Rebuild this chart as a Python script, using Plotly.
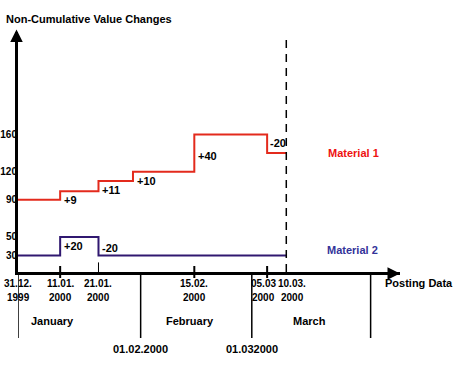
import plotly.graph_objects as go

# ---- data ----
m1_dates = ["1999-12-31", "2000-01-11", "2000-01-21", "2000-01-30", "2000-02-15", "2000-03-05", "2000-03-10"]
m1_values = [90, 99, 110, 120, 160, 140, 140]
m2_dates = ["1999-12-31", "2000-01-11", "2000-01-21", "2000-03-10"]
m2_values = [30, 50, 30, 30]

tick_dates = ["1999-12-31", "2000-01-11", "2000-01-21", "2000-02-15", "2000-03-05", "2000-03-10"]
tick_day = ["31.12.", "11.01.", "21.01.", "15.02.", "05.03", "10.03."]
tick_year = ["1999", "2000", "2000", "2000", "2000", "2000"]
y_ticks = [30, 50, 90, 120, 160]
month_bounds = ["1999-12-31", "2000-02-01", "2000-03-01", "2000-04-01"]
bound_labels = ["", "01.02.2000", "01.032000", ""]
month_names = ["January", "February", "March"]
month_label_dates = ["2000-01-09", "2000-02-14", "2000-03-16"]
cross_ticks = ["2000-01-11", "2000-02-15", "2000-03-05"]
period_end = "2000-03-10"

RED = "#e32a1c"
NAVY = "#301870"
NAVY_TXT = "#333399"
FONT = "Liberation Sans, Arial, sans-serif"

fig = go.Figure()
fig.add_trace(go.Scatter(x=m1_dates, y=m1_values, mode="lines", line=dict(color=RED, width=2, shape="hv"),
                         hoverinfo="skip"))
fig.add_trace(go.Scatter(x=m2_dates, y=m2_values, mode="lines", line=dict(color=NAVY, width=2, shape="hv"),
                         hoverinfo="skip"))

ann = []
shapes = []
f = dict(family=FONT, size=11, color="black", weight="bold")
fn = dict(family=FONT, size=10, color="black", weight="bold")
fy = dict(family=FONT, size=10, color="black", weight="bold")

# change labels computed from the series
def change_labels(dates, values):
    out = []
    for i in range(1, len(values)):
        d = values[i] - values[i - 1]
        if d == 0:
            continue
        out.append((dates[i], values[i - 1], values[i], ("+%d" % d) if d > 0 else ("%d" % d)))
    return out

for (d, v0, v1, t) in change_labels(m1_dates, m1_values):
    if v1 - v0 >= 30:
        ann.append(dict(x=d, y=(v0 + v1) / 2, text=t, xref="x", yref="y", showarrow=False,
                        xanchor="left", yanchor="middle", xshift=2, yshift=-3, font=f))
    elif v1 < v0:
        ann.append(dict(x=d, y=v1, text=t, xref="x", yref="y", showarrow=False,
                        xanchor="left", yanchor="bottom", xshift=1, yshift=2, font=f))
    else:
        ann.append(dict(x=d, y=v1, text=t, xref="x", yref="y", showarrow=False,
                        xanchor="left", yanchor="top", xshift=2, yshift=-1, font=f))
for (d, v0, v1, t) in change_labels(m2_dates, m2_values):
    if v1 < v0:
        ann.append(dict(x=d, y=v1, text=t, xref="x", yref="y", showarrow=False,
                        xanchor="left", yanchor="bottom", xshift=2, yshift=0, font=f))
    else:
        ann.append(dict(x=d, y=v1, text=t, xref="x", yref="y", showarrow=False,
                        xanchor="left", yanchor="top", xshift=2, yshift=-1, font=f))

# series labels
ann.append(dict(x=period_end, y=m1_values[-1], text="Material 1", xref="x", yref="y", showarrow=False,
                xanchor="left", yanchor="middle", xshift=40, yshift=0, font=dict(f, color="#ee1111")))
ann.append(dict(x=period_end, y=m2_values[-1], text="Material 2", xref="x", yref="y", showarrow=False,
                xanchor="left", yanchor="middle", xshift=39, yshift=6, font=dict(f, color=NAVY_TXT)))

# title and axis name
ann.append(dict(x=-0.0366, y=1.054, xref="paper", yref="paper", text="Non-Cumulative Value Changes",
                showarrow=False, xanchor="left", yanchor="middle", font=f))
ann.append(dict(x=1.05, y=-0.046, xref="paper", yref="paper", text="Posting Data",
                showarrow=False, xanchor="center", yanchor="middle", font=f))

# date tick labels (two lines), nudged apart where the schematic spacing is tight
nudge = {"2000-03-05": -4, "2000-03-10": 6}
for d, t1, t2 in zip(tick_dates, tick_day, tick_year):
    s = nudge.get(d, 0)
    ann.append(dict(x=d, y=-0.046, xref="x", yref="paper", text=t1, showarrow=False,
                    xanchor="center", yanchor="middle", xshift=s, font=fn))
    ann.append(dict(x=d, y=-0.108, xref="x", yref="paper", text=t2, showarrow=False,
                    xanchor="center", yanchor="middle", xshift=s, font=fn))

# month names and boundary labels
for d, t in zip(month_label_dates, month_names):
    ann.append(dict(x=d, y=-0.204, xref="x", yref="paper", text=t, showarrow=False,
                    xanchor="center", yanchor="middle", font=f))
for d, t in zip(month_bounds, bound_labels):
    if t:
        ann.append(dict(x=d, y=-0.321, xref="x", yref="paper", text=t, showarrow=False,
                        xanchor="center", yanchor="middle", font=f))
    shapes.append(dict(type="line", xref="x", yref="paper", x0=d, x1=d, y0=0, y1=-0.275,
                       line=dict(color="black", width=1.5)))

# crossing ticks on the date axis
for d in cross_ticks:
    shapes.append(dict(type="line", xref="x", yref="paper", x0=d, x1=d, y0=-0.025, y1=0.025,
                       line=dict(color="black", width=2)))
shapes.append(dict(type="line", xref="x", yref="paper", x0=m1_dates[2], x1=m1_dates[2], y0=0, y1=0.04,
                   line=dict(color="black", width=1)))

# dashed end-of-period line
shapes.append(dict(type="line", xref="x", yref="paper", x0=period_end, x1=period_end, y0=0, y1=0.98,
                   line=dict(color="black", width=1.5, dash="8px,6px")))

# axis arrows
ann.append(dict(x=0, y=1.01, xref="paper", yref="paper", ax=0, ay=12, showarrow=True, xshift=-1.5,
                arrowhead=2, arrowsize=1, arrowwidth=2.5, arrowcolor="black", standoff=0, text=""))
ann.append(dict(x=1.0, y=0, xref="paper", yref="paper", ax=-14, ay=0, showarrow=True, yshift=-1.5,
                arrowhead=2, arrowsize=1, arrowwidth=2.5, arrowcolor="black", standoff=0, text=""))

fig.update_layout(
    width=460, height=368,
    margin=dict(l=18, r=60, t=32, b=96, autoexpand=False),
    paper_bgcolor="white", plot_bgcolor="white",
    showlegend=False,
    font=dict(family=FONT, size=11, color="black", weight="bold"),
    xaxis=dict(type="date", range=["1999-12-31", "2000-04-08 16:00"], showgrid=False, zeroline=False,
               showline=True, linecolor="black", linewidth=3, showticklabels=False,
               ticks="", fixedrange=True, automargin=False),
    yaxis=dict(range=[12.3, 270.1], showgrid=False, zeroline=False, showline=True, linecolor="black",
               linewidth=3, tickvals=y_ticks, ticktext=[str(v) for v in y_ticks], ticks="",
               tickfont=fy, ticklabelstandoff=-4, fixedrange=True, automargin=False),
    annotations=ann,
    shapes=shapes,
)

fig.write_html("out.html", config={"displayModeBar": False},
               post_script="document.body.style.margin='0px';")
